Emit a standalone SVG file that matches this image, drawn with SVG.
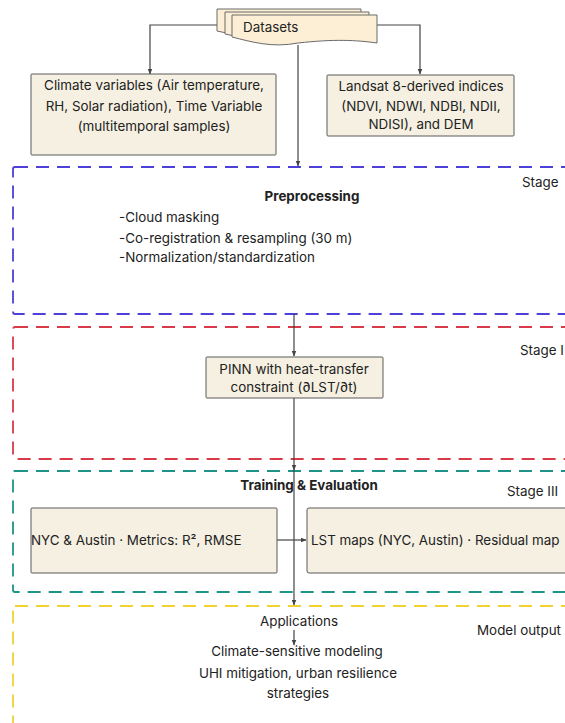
<svg xmlns="http://www.w3.org/2000/svg" width="565" height="723" viewBox="0 0 565 723">
<defs>
<style>
.t{font-family:Inter,"Liberation Sans",sans-serif;font-size:13.4px;fill:#222}
.c{text-anchor:middle}
.b{font-weight:bold}
.box{fill:#f5f0e1;stroke:#5a5a5a;stroke-width:1}
.stage{fill:none;stroke-width:1.8;stroke-dasharray:13 8}
.doc{fill:#fcefd6;stroke:#6a6a6a;stroke-width:1}
.ln{fill:none;stroke:#444;stroke-width:1.2}
</style>
<marker id="ah" viewBox="0 0 10 10" refX="9" refY="5" markerWidth="5" markerHeight="5" orient="auto-start-reverse">
<path d="M0,1 L10,5 L0,9 Z" fill="#444"/>
</marker>
</defs>
<rect width="565" height="723" fill="#ffffff"/>

<g id="stage1">
<rect class="stage" x="13" y="167" width="575" height="147" rx="2" stroke="#4d40d8"/>
<text class="t" x="522" y="187">Stage</text>
<text class="t b c" x="312" y="201">Preprocessing</text>
<text class="t" x="119" y="222">-Cloud masking</text>
<text class="t" x="119" y="243">-Co-registration &amp; resampling (30 m)</text>
<text class="t" x="119" y="262">-Normalization/standardization</text>
</g>
<g id="stage2">
<rect class="stage" x="13" y="327" width="575" height="132" rx="2" stroke="#d93a4a"/>
<text class="t" x="520" y="355">Stage I</text>
</g>
<g id="stage3">
<rect class="stage" x="13" y="471" width="575" height="121" rx="2" stroke="#1e9488"/>
<text class="t b c" x="309" y="490">Training &amp; Evaluation</text>
<text class="t" x="507" y="496">Stage III</text>
</g>
<g id="stage4">
<rect class="stage" x="13" y="606" width="575" height="140" rx="2" stroke="#f0d232"/>
<text class="t" x="477" y="635">Model output</text>
<text class="t c" x="299" y="626">Applications</text>
<text class="t c" x="297" y="656">Climate-sensitive modeling</text>
<text class="t c" x="298" y="678">UHI mitigation, urban resilience</text>
<text class="t c" x="298" y="698">strategies</text>
</g>

<g id="connectors">
<path class="ln" d="M217,25 H150 V74" marker-end="url(#ah)"/>
<path class="ln" d="M377,25 H420 V74" marker-end="url(#ah)"/>
<path class="ln" d="M298,45 V166" marker-end="url(#ah)"/>
<path class="ln" d="M294,314 V356" marker-end="url(#ah)"/>
<path class="ln" d="M294,398 V470" marker-end="url(#ah)"/>
<path class="ln" d="M294,470 V605" marker-end="url(#ah)"/>
<path class="ln" d="M277,540 H306" marker-end="url(#ah)"/>
<path class="ln" d="M294,630 V645" marker-end="url(#ah)"/>
</g>

<g id="datasets">
<path class="doc" d="M217,9 H361 V37 C340,34 318,33 298,37 C272,42 240,36 217,31 Z"/>
<path class="doc" d="M225,12 H369 V40 C348,37 326,36 306,40 C280,45 248,39 225,34 Z"/>
<path class="doc" d="M232,15 H377 V43 C356,40 334,39 298,43 C272,48 252,42 232,37 Z"/>
<text class="t" x="243" y="32">Datasets</text>
</g>

<g id="climate">
<rect class="box" x="31" y="74" width="245" height="81" rx="1"/>
<text class="t c" x="154" y="90">Climate variables (Air temperature,</text>
<text class="t c" x="154" y="111">RH, Solar radiation), Time Variable</text>
<text class="t c" x="154" y="131">(multitemporal samples)</text>
</g>
<g id="landsat">
<rect class="box" x="327" y="75" width="187" height="61" rx="1"/>
<text class="t c" x="421" y="91">Landsat 8-derived indices</text>
<text class="t c" x="421" y="111">(NDVI, NDWI, NDBI, NDII,</text>
<text class="t c" x="421" y="129">NDISI), and DEM</text>
</g>
<g id="pinn">
<rect class="box" x="206" y="357" width="177" height="41" rx="1"/>
<text class="t c" x="294" y="374">PINN with heat-transfer</text>
<text class="t c" x="294" y="392">constraint (∂LST/∂t)</text>
</g>
<g id="nyc">
<rect class="box" x="31" y="508" width="246" height="65" rx="1"/>
<text class="t" x="31" y="545">NYC &amp; Austin · Metrics: R², RMSE</text>
</g>
<g id="lst">
<rect class="box" x="307" y="508" width="270" height="65" rx="2"/>
<text class="t" x="311" y="545">LST maps (NYC, Austin) · Residual map</text>
</g>
</svg>
